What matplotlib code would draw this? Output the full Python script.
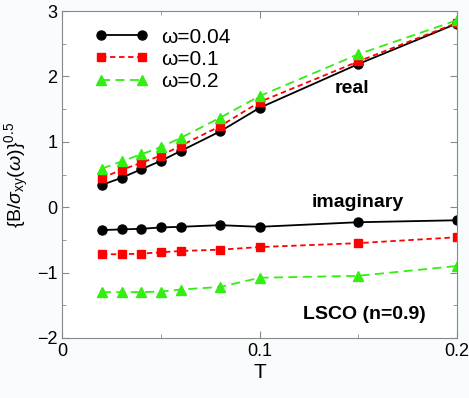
import matplotlib
matplotlib.use("Agg")
import matplotlib.pyplot as plt
from matplotlib.ticker import MultipleLocator, FuncFormatter

plt.rcParams['font.family'] = ['Liberation Sans', 'DejaVu Sans']
plt.rcParams['mathtext.fontset'] = 'custom'
plt.rcParams['mathtext.rm'] = 'Liberation Sans'
plt.rcParams['mathtext.it'] = 'Liberation Sans:italic'

# data
T = [0.02, 0.03, 0.04, 0.05, 0.06, 0.08, 0.1, 0.15, 0.2]

real_004 = [0.34, 0.45, 0.58, 0.71, 0.86, 1.16, 1.52, 2.19, 2.81]
real_01 = [0.45, 0.57, 0.68, 0.79, 0.94, 1.24, 1.61, 2.23, 2.82]
real_02 = [0.59, 0.70, 0.81, 0.92, 1.06, 1.37, 1.70, 2.34, 2.86]

imag_004 = [-0.35, -0.34, -0.33, -0.31, -0.30, -0.275, -0.30, -0.23, -0.20]
imag_01 = [-0.72, -0.72, -0.71, -0.69, -0.67, -0.65, -0.61, -0.55, -0.46]
imag_02 = [-1.30, -1.30, -1.30, -1.29, -1.26, -1.22, -1.08, -1.05, -0.90]

labels = ['ω=0.04', 'ω=0.1', 'ω=0.2']

fig = plt.figure(figsize=(4.69, 3.98), dpi=100)
fig.patch.set_facecolor('#f8fcfc')
ax = fig.add_axes([0.133, 0.151, 0.841, 0.821])
ax.set_facecolor('white')

styles = [
    dict(color='black', ls='-', marker='o', ms=6.5, lw=1.3),
    dict(color='red', ls=(0, (3, 2)), marker='s', ms=5.5, lw=1.3),
    dict(color='#33ee11', ls=(0, (5, 3)), marker='^', ms=6.5, lw=1.3),
]

for re, im, lab, st in zip([real_004, real_01, real_02],
                           [imag_004, imag_01, imag_02], labels, styles):
    ax.plot(T, re, label=lab, **st)
    ax.plot(T, im, **st)

ax.set_xlim(0, 0.2)
ax.set_ylim(-2, 3)
ax.xaxis.set_major_locator(MultipleLocator(0.1))
ax.xaxis.set_minor_locator(MultipleLocator(0.05))
ax.yaxis.set_major_locator(MultipleLocator(1))
ax.yaxis.set_minor_locator(MultipleLocator(0.5))
ax.xaxis.set_major_formatter(FuncFormatter(lambda v, p: '%g' % round(v, 3)))
ax.yaxis.set_major_formatter(FuncFormatter(lambda v, p: ('\u2212%g' % -v) if v < 0 else '%g' % v))
ax.tick_params(which='both', direction='in', top=True, right=True, color='#888888', labelsize=13)
ax.tick_params(which='major', length=5)
ax.tick_params(which='minor', length=3)
for s in ax.spines.values():
    s.set_color('#888888')

ax.set_xlabel('T', fontsize=15, labelpad=2)
ax.set_ylabel(r'$\{\mathrm{B}/\sigma_{\mathrm{xy}}(\omega)\}^{0.5}$', fontsize=14, labelpad=4)

ax.text(0.147, 1.81, 'real', fontsize=14, fontweight='bold', ha='center', va='center')
ax.text(0.150, 0.07, 'imaginary', fontsize=14, fontweight='bold', ha='center', va='center')
ax.text(0.153, -1.64, 'LSCO (n=0.9)', fontsize=14, fontweight='bold', ha='center', va='center')

ax.legend(loc='upper left', frameon=False, fontsize=15, handlelength=2.6, numpoints=2,
          borderaxespad=0.0, labelspacing=0.15, handletextpad=0.6,
          bbox_to_anchor=(0.06, 0.975))

fig.savefig('out.png', dpi=100, facecolor=fig.get_facecolor())
